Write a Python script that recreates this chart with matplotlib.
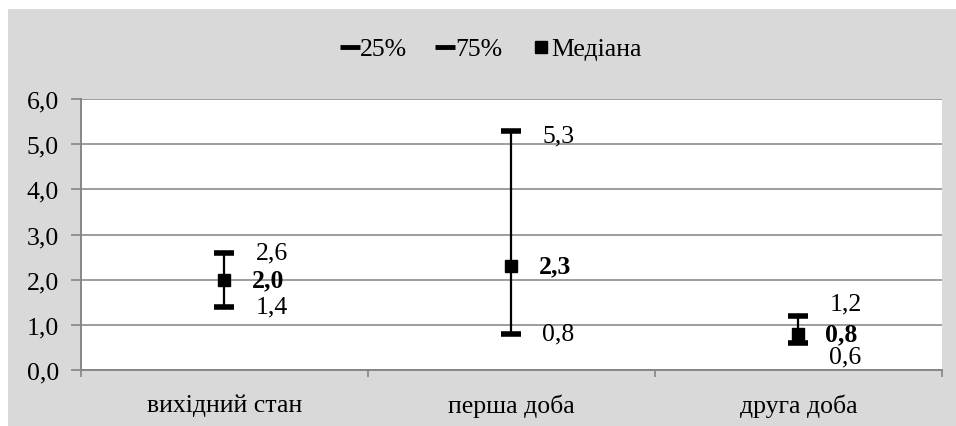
import numpy as np
import matplotlib
matplotlib.use("Agg")
from matplotlib import pyplot as plt
from matplotlib.lines import Line2D
from matplotlib.patches import Rectangle

plt.rcParams['font.family'] = ['Liberation Serif', 'DejaVu Serif']

categories = ["вихідний стан", "перша доба", "друга доба"]
q25 = [1.4, 0.8, 0.6]
q75 = [2.6, 5.3, 1.2]
median = [2.0, 2.3, 0.8]

def fmt(v):
    return ("%.1f" % v).replace(".", ",")

fig = plt.figure(figsize=(9.56, 4.27), dpi=100)
fig.patch.set_facecolor("white")
# grey chart area with a thin white margin at top and left
fig.patches.append(Rectangle((8 / 956, 0), 1, 1 - 10 / 427, transform=fig.transFigure,
                             facecolor="#d9d9d9", edgecolor="none", zorder=-1))

ax = fig.add_axes([81 / 956, 56 / 427, (942 - 81) / 956, (371 - 100) / 427])
ax.set_facecolor("white")

x = np.arange(len(categories)) + 0.5

ax.vlines(x, q25, q75, color="black", lw=1.6, zorder=3)
ax.plot(x, q25, ls="none", marker="_", ms=14.5, mew=4, color="black", zorder=4)
ax.plot(x, q75, ls="none", marker="_", ms=14.5, mew=4, color="black", zorder=4)
ax.plot(x, median, ls="none", marker="s", ms=8.5, color="black", zorder=5)

fs = 18.5
# value labels to the right of each mark
lo_shift = [0, 0, -14]
hi_shift = [0, -5, 12]
for i in range(len(categories)):
    ax.annotate(fmt(q75[i]), (x[i], q75[i]), xytext=(31, hi_shift[i]), textcoords="offset pixels",
                ha="left", va="center", fontsize=fs)
    ax.annotate(fmt(q25[i]), (x[i], q25[i]), xytext=(31, lo_shift[i]), textcoords="offset pixels",
                ha="left", va="center", fontsize=fs)
    ax.annotate(fmt(median[i]), (x[i], median[i]), xytext=(27, 0), textcoords="offset pixels",
                ha="left", va="center", fontsize=fs, fontweight="bold")

ax.set_xlim(0, 3)
ax.set_ylim(0, 6)
ax.set_yticks(np.arange(0, 7, 1.0))
ax.set_yticklabels([fmt(v) for v in np.arange(0, 7, 1.0)])
ax.set_xticks(x)
ax.set_xticklabels(categories)
ax.set_xticks([0, 1, 2, 3], minor=True)
ax.tick_params(axis="x", which="major", length=0, pad=17, labelsize=fs)
ax.tick_params(axis="x", which="minor", length=5, width=1.2, color="#868686", direction="out")
ax.tick_params(axis="y", length=7, width=1.2, color="#868686", pad=9, labelsize=fs)

ax.grid(axis="y", color="#8c8c8c", lw=1.2)
ax.set_axisbelow(True)
for s in ["top", "right"]:
    ax.spines[s].set_visible(False)
for s in ["left", "bottom"]:
    ax.spines[s].set_color("#868686")
    ax.spines[s].set_linewidth(1.4)

handles = [
    Line2D([], [], ls="none", marker="_", ms=14, mew=3.5, color="black"),
    Line2D([], [], ls="none", marker="_", ms=14, mew=3.5, color="black"),
    Line2D([], [], ls="none", marker="s", ms=8, color="black"),
]
fig.legend(handles, ["25%", "75%", "Медіана"], loc="center", bbox_to_anchor=(492 / 956, 1 - 50 / 427),
           ncol=3, frameon=False, fontsize=fs, handlelength=0.6, handletextpad=0.1, columnspacing=1.2)

fig.savefig("out.png", dpi=100)
